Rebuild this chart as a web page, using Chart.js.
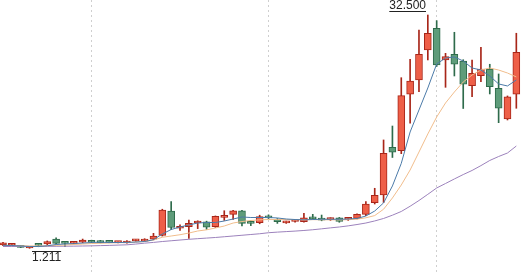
<!DOCTYPE html>
<html>
<head>
<meta charset="utf-8">
<script src="https://cdn.jsdelivr.net/npm/chart.js@4/dist/chart.umd.min.js"></script>
<style>
  html, body { margin: 0; padding: 0; background: #fff; }
  #wrap { width: 525px; height: 274px; position: relative; }
</style>
</head>
<body>
<div id="wrap"><canvas id="kChart"></canvas></div>
<script>
// daily candles, oldest first
const open = [1.65, 1.62, 1.52, 1.25, 1.64, 1.79, 2.45, 1.90, 1.88, 2.02,
  2.23, 2.23, 2.02, 1.98, 1.92, 2.20, 2.18, 2.42, 2.95, 6.20,
  3.90, 4.10, 4.60, 4.77, 4.10, 5.36, 5.77, 6.22, 4.60, 4.65,
  5.57, 5.10, 4.63, 4.80, 4.78, 5.38, 5.20, 5.05, 5.30, 5.10,
  5.22, 5.77, 7.33, 8.36, 14.76, 14.30, 21.87, 23.78, 27.81, 30.72,
  26.47, 27.23, 26.33, 23.02, 24.36, 25.26, 22.67, 18.55, 21.87];
const close = [1.95, 1.68, 1.34, 1.32, 1.61, 2.10, 1.88, 1.88, 1.95, 2.32,
  2.02, 1.97, 2.00, 2.01, 2.10, 2.33, 2.42, 2.86, 6.35, 4.00,
  4.15, 4.56, 4.66, 4.03, 5.50, 5.62, 6.25, 4.56, 4.55, 5.45,
  5.30, 4.78, 4.78, 4.85, 5.30, 5.15, 4.98, 5.22, 4.80, 5.30,
  5.75, 7.15, 8.32, 13.95, 14.09, 21.68, 23.65, 27.23, 30.05, 25.79,
  26.91, 25.89, 23.21, 24.68, 25.26, 22.88, 19.99, 21.54, 27.50];
const high = [2.00, 1.78, 1.55, 1.42, 1.78, 2.20, 2.63, 2.00, 2.05, 2.45,
  2.30, 2.28, 2.10, 2.10, 2.25, 2.40, 2.50, 3.22, 6.45, 7.46,
  4.35, 5.00, 4.90, 4.85, 5.55, 6.25, 6.30, 6.30, 4.90, 5.65,
  5.70, 5.20, 4.85, 4.90, 5.90, 5.77, 5.67, 5.30, 5.35, 5.35,
  5.85, 7.46, 9.26, 15.74, 17.61, 24.09, 26.56, 30.49, 32.50, 31.74,
  27.36, 30.18, 26.50, 26.46, 28.17, 25.89, 24.59, 21.64, 30.05];
const low = [1.58, 1.55, 1.30, 1.211, 1.42, 1.70, 1.80, 1.42, 1.80, 1.95,
  1.95, 1.92, 1.95, 1.92, 1.90, 2.15, 2.10, 2.35, 2.85, 3.70,
  3.60, 2.55, 3.85, 3.75, 4.00, 4.95, 5.10, 4.20, 4.25, 4.50,
  5.20, 4.55, 4.55, 4.70, 4.70, 5.05, 4.90, 4.95, 4.70, 4.95,
  5.15, 5.60, 7.15, 7.35, 13.39, 13.90, 17.98, 22.21, 26.47, 25.60,
  22.80, 24.32, 19.96, 21.54, 23.56, 21.91, 18.06, 18.42, 19.99];

// moving averages as drawn
const ma5 = [1.61, 1.59, 1.52, 1.45, 1.45, 1.55, 1.72, 1.79, 1.85, 1.92,
  1.99, 2.02, 1.99, 1.99, 2.00, 2.05, 2.12, 2.36, 3.13, 3.73,
  4.07, 4.34, 4.60, 4.67, 4.67, 4.87, 5.14, 5.41, 5.34, 5.34,
  5.34, 5.28, 5.14, 5.07, 5.03, 5.07, 5.10, 5.11, 5.10, 5.14,
  5.21, 5.54, 6.21, 7.30, 9.57, 12.60, 16.81, 19.76, 22.71, 25.93,
  26.73, 26.87, 26.33, 25.39, 25.12, 24.32, 23.25, 22.98, 23.78];
const ma10 = [1.59, 1.58, 1.55, 1.52, 1.52, 1.55, 1.60, 1.65, 1.72, 1.78,
  1.85, 1.88, 1.92, 1.96, 1.99, 2.04, 2.12, 2.32, 2.69, 2.86,
  3.03, 3.26, 3.53, 3.69, 3.93, 4.20, 4.60, 4.80, 4.94, 5.03,
  5.07, 5.07, 5.06, 5.05, 5.05, 5.05, 5.04, 5.03, 5.03, 5.04,
  5.12, 5.30, 5.60, 6.45, 7.96, 9.70, 11.71, 14.12, 16.54, 18.82,
  20.70, 22.17, 23.51, 24.45, 25.12, 25.39, 25.12, 24.72, 24.19];
const ma30 = [1.45, 1.45, 1.45, 1.46, 1.46, 1.47, 1.48, 1.49, 1.50, 1.52,
  1.54, 1.57, 1.60, 1.64, 1.68, 1.78, 1.90, 2.00, 2.12, 2.22,
  2.32, 2.42, 2.50, 2.58, 2.66, 2.76, 2.86, 2.96, 3.06, 3.16,
  3.30, 3.38, 3.45, 3.52, 3.60, 3.70, 3.82, 3.95, 4.07, 4.22,
  4.40, 4.60, 4.88, 5.21, 5.65, 6.15, 6.85, 7.62, 8.45, 9.30,
  9.90, 10.51, 11.10, 11.65, 12.30, 12.99, 13.52, 13.99, 14.93];

// candles where a new month starts (dotted separators)
const monthStarts = [10, 30, 49];

const UP_FILL = '#ee5f48', UP_EDGE = '#a82619';
const DN_FILL = '#5e9c7a', DN_EDGE = '#2e6b4b';
const isUp = i => close[i] >= open[i];

const pts = arr => arr.map((v, i) => ({ x: i, y: v }));

// max / min price labels
const extremeLabels = {
    id: 'extremeLabels',
    afterDatasetsDraw(chart) {
        const { ctx, scales: { x, y } } = chart;
        const hi = Math.max(...high), lo = Math.min(...low);
        const hiIdx = high.indexOf(hi), loIdx = low.indexOf(lo);
        ctx.save();
        ctx.font = '12px "Liberation Sans", Arial, sans-serif';
        ctx.fillStyle = '#222';
        ctx.strokeStyle = '#222';
        ctx.lineWidth = 1;

        // high: right aligned, underlined
        let txt = hi.toFixed(3);
        let w = ctx.measureText(txt).width;
        let right = Math.round(x.getPixelForValue(hiIdx)) - 2;
        let yp = y.getPixelForValue(hi);
        ctx.textAlign = 'right';
        ctx.textBaseline = 'alphabetic';
        ctx.fillText(txt, right, yp - 6);
        let ly = Math.round(yp - 4) + 0.5;
        ctx.beginPath();
        ctx.moveTo(right - w, ly);
        ctx.lineTo(right, ly);
        ctx.stroke();

        // low: left aligned, overlined
        txt = lo.toFixed(3);
        w = ctx.measureText(txt).width;
        let left = Math.round(x.getPixelForValue(loIdx)) + 2;
        yp = y.getPixelForValue(lo);
        ctx.textAlign = 'left';
        ctx.fillText(txt, left, yp + 13);
        ly = Math.round(yp + 3) + 0.5;
        ctx.beginPath();
        ctx.moveTo(left, ly);
        ctx.lineTo(left + w, ly);
        ctx.stroke();
        ctx.restore();
    }
};

new Chart(document.getElementById('kChart'), {
    type: 'bar',
    data: {
        datasets: [
            { type: 'line', data: pts(ma5), borderColor: '#4b7aa8', borderWidth: 1, pointRadius: 0, order: 0 },
            { type: 'line', data: pts(ma10), borderColor: '#f1bd8c', borderWidth: 1, pointRadius: 0, order: 0 },
            { type: 'line', data: pts(ma30), borderColor: '#9c82bc', borderWidth: 1, pointRadius: 0, order: 0 },
            {
                data: open.map((o, i) => ({ x: i, y: [o, close[i]] })),
                backgroundColor: c => isUp(c.dataIndex) ? UP_FILL : DN_FILL,
                borderColor: c => isUp(c.dataIndex) ? UP_EDGE : DN_EDGE,
                borderWidth: 1,
                borderSkipped: false,
                barThickness: 7,
                minBarLength: 2,
                grouped: false,
                order: 1
            },
            {
                data: low.map((l, i) => ({ x: i, y: [l, high[i]] })),
                backgroundColor: c => isUp(c.dataIndex) ? UP_EDGE : DN_EDGE,
                borderWidth: 0,
                barThickness: 1,
                grouped: false,
                order: 2
            }
        ]
    },
    options: {
        responsive: true,
        maintainAspectRatio: false,
        animation: false,
        layout: { padding: 0 },
        plugins: {
            legend: { display: false },
            tooltip: { enabled: false }
        },
        scales: {
            x: {
                type: 'linear',
                min: -0.34,
                max: 58.98,
                offset: false,
                ticks: { display: false },
                border: { display: false, dash: [2, 3] },
                grid: { color: '#cfcfcf', drawTicks: false, offset: false },
                afterBuildTicks: axis => { axis.ticks = monthStarts.map(v => ({ value: v })); },
                afterFit: axis => { axis.height = 0; }
            },
            y: {
                display: false,
                min: -2.236,
                max: 34.51
            }
        }
    },
    plugins: [extremeLabels]
});
</script>
</body>
</html>
